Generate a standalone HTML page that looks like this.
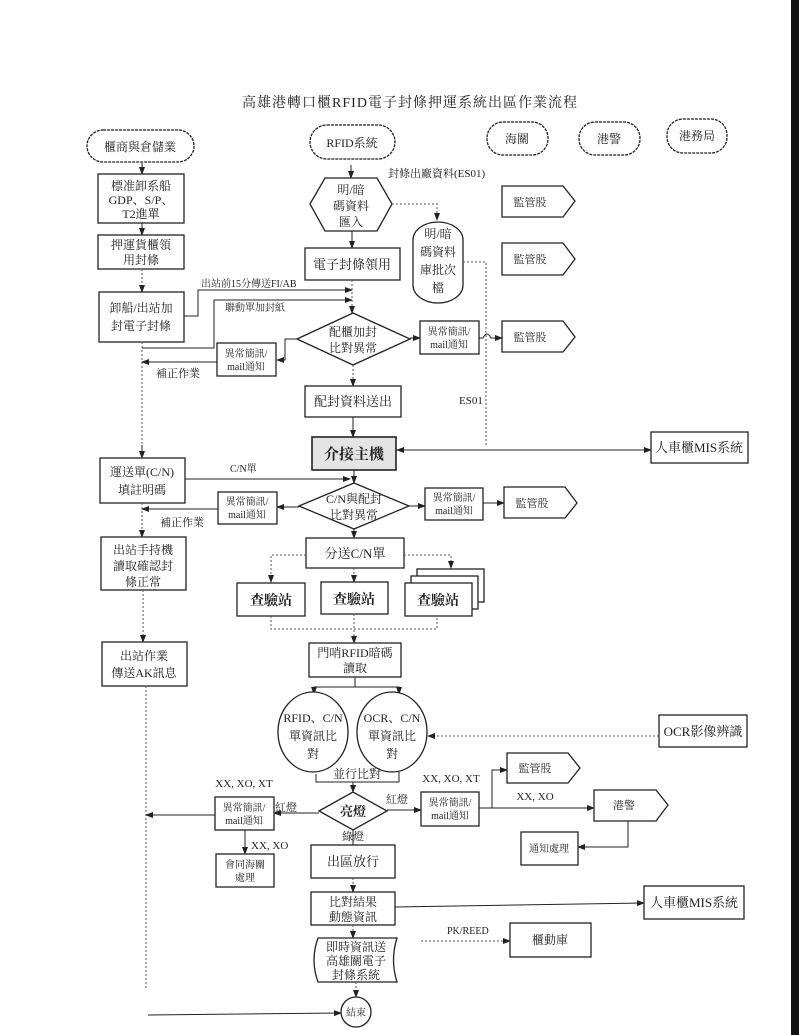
<!DOCTYPE html>
<html><head><meta charset="utf-8"><style>
html,body{margin:0;padding:0;background:#fff;}
svg{display:block;}
text{font-family:"Liberation Serif","Noto Serif CJK SC","Noto Sans CJK TC",serif;fill:#222;}
.b{fill:#fff;stroke:#222;stroke-width:1.3;}
.l{fill:none;stroke:#222;stroke-width:1;}
.d{fill:none;stroke:#555;stroke-width:1;stroke-dasharray:2,2;}
</style></head><body>
<svg width="799" height="1035" viewBox="0 0 799 1035" xmlns="http://www.w3.org/2000/svg">
<defs>
<marker id="a" markerWidth="8" markerHeight="8" refX="7" refY="4" orient="auto" markerUnits="userSpaceOnUse"><path d="M0,1 L8,4 L0,7 Z" fill="#222"/></marker>
</defs>
<rect x="791" y="0" width="8" height="1035" fill="#111"/>

<text x="410" y="107" font-size="14" text-anchor="middle" letter-spacing="1">高雄港轉口櫃RFID電子封條押運系統出區作業流程</text>

<!-- headers -->
<rect x="87" y="130" width="107" height="32" rx="16" class="b" stroke-dasharray="3,1"/>
<text x="140" y="151" font-size="12" text-anchor="middle">櫃商與倉儲業</text>
<rect x="310" y="125" width="85" height="34" rx="17" class="b" stroke-dasharray="3,1"/>
<text x="352" y="147" font-size="12" text-anchor="middle">RFID系統</text>
<rect x="487" y="122" width="61" height="33" rx="16" class="b" stroke-dasharray="3,1"/>
<text x="517" y="143" font-size="12" text-anchor="middle">海關</text>
<rect x="579" y="122" width="61" height="33" rx="16" class="b" stroke-dasharray="3,1"/>
<text x="609" y="143" font-size="12" text-anchor="middle">港警</text>
<rect x="667" y="119" width="60" height="34" rx="16" class="b" stroke-dasharray="3,1"/>
<text x="697" y="140" font-size="12" text-anchor="middle">港務局</text>

<!-- left column -->
<line x1="142" y1="163" x2="142" y2="174" class="l" marker-end="url(#a)"/>
<rect x="98" y="174" width="86" height="49" class="b"/>
<text font-size="12" text-anchor="middle"><tspan x="141" y="190">標准卸系船</tspan><tspan x="141" y="204">GDP、S/P、</tspan><tspan x="141" y="218">T2進單</tspan></text>
<line x1="142" y1="223" x2="142" y2="235" class="l" marker-end="url(#a)"/>
<rect x="98" y="235" width="86" height="34" class="b"/>
<text font-size="12" text-anchor="middle"><tspan x="141" y="249">押運貨櫃領</tspan><tspan x="141" y="264">用封條</tspan></text>
<line x1="142" y1="269" x2="142" y2="292" class="d" marker-end="url(#a)"/>
<rect x="99" y="292" width="85" height="50" class="b"/>
<text font-size="12" text-anchor="middle"><tspan x="141" y="312">卸船/出站加</tspan><tspan x="141" y="330">封電子封條</tspan></text>
<line x1="142" y1="342" x2="142" y2="453" class="d"/>
<line x1="142" y1="445" x2="142" y2="458" class="l" marker-end="url(#a)"/>
<rect x="100" y="458" width="85" height="45" class="b"/>
<text font-size="12" text-anchor="middle"><tspan x="142" y="476">運送單(C/N)</tspan><tspan x="142" y="494">填註明碼</tspan></text>
<line x1="142" y1="503" x2="142" y2="537" class="d" marker-end="url(#a)"/>
<rect x="101" y="537" width="85" height="53" class="b"/>
<text font-size="12" text-anchor="middle"><tspan x="143" y="554">出站手持機</tspan><tspan x="143" y="570">讀取確認封</tspan><tspan x="143" y="586">條正常</tspan></text>
<line x1="143" y1="590" x2="143" y2="642" class="d" marker-end="url(#a)"/>
<rect x="102" y="642" width="85" height="44" class="b"/>
<text font-size="12" text-anchor="middle"><tspan x="144" y="660">出站作業</tspan><tspan x="144" y="677">傳送AK訊息</tspan></text>
<line x1="146" y1="686" x2="146" y2="990" class="d"/>

<!-- RFID column top -->
<line x1="351" y1="165" x2="351" y2="178" class="l" marker-end="url(#a)"/>
<polygon points="310,204 325,178 377,178 392,204 377,231 325,231" class="b"/>
<text font-size="12" text-anchor="middle"><tspan x="351" y="194">明/暗</tspan><tspan x="351" y="210">碼資料</tspan><tspan x="351" y="226">匯入</tspan></text>
<text x="388" y="177" font-size="11">封條出廠資料(ES01)</text>
<polyline points="392,204 437,204 437,220" class="d" marker-end="url(#a)"/>
<path d="M413,240 A25,18 0 0 1 463,240 L463,285 A25,18 0 0 1 413,285 Z" class="b"/>
<text font-size="12" text-anchor="middle"><tspan x="438" y="238">明/暗</tspan><tspan x="438" y="256">碼資料</tspan><tspan x="438" y="274">庫批次</tspan><tspan x="438" y="292">檔</tspan></text>
<polyline points="463,262 486,262 486,445" class="d"/>
<text x="459" y="404" font-size="11">ES01</text>

<line x1="352" y1="231" x2="352" y2="248" class="l" marker-end="url(#a)"/>
<rect x="305" y="248" width="95" height="32" class="b"/>
<text x="352" y="269" font-size="13" text-anchor="middle">電子封條領用</text>

<!-- 監管股 -->
<polygon points="502,186 563,186 575,201 563,217 502,217" class="b"/>
<text x="530" y="206" font-size="11" text-anchor="middle">監管股</text>
<polygon points="502,243 563,243 575,259 563,275 502,275" class="b"/>
<text x="530" y="263" font-size="11" text-anchor="middle">監管股</text>
<polygon points="502,321 563,321 575,337 563,352 502,352" class="b"/>
<text x="530" y="341" font-size="11" text-anchor="middle">監管股</text>

<!-- box3 connectors -->
<polyline points="184,316 198,316 198,290 352,290" class="l" marker-end="url(#a)"/>
<text x="201" y="287" font-size="10">出站前15分傳送FI/AB</text>
<polyline points="142,348 214,348 214,300 352,300" class="l" marker-end="url(#a)"/>
<text x="225" y="311" font-size="10">聯動單加封紙</text>
<line x1="352" y1="280" x2="352" y2="313" class="d" marker-end="url(#a)"/>

<polygon points="297,339 353,313 410,339 353,365" class="b"/>
<text font-size="12" text-anchor="middle"><tspan x="353" y="336">配櫃加封</tspan><tspan x="353" y="352">比對異常</tspan></text>
<polyline points="297,339 285,339 285,360 277,360" class="l" marker-end="url(#a)"/>
<rect x="217" y="343" width="59" height="33" class="b"/>
<text font-size="10" text-anchor="middle"><tspan x="246" y="357">異常簡訊/</tspan><tspan x="246" y="370">mail通知</tspan></text>
<line x1="217" y1="362" x2="142" y2="362" class="l" marker-end="url(#a)"/>
<text x="156" y="377" font-size="11">補正作業</text>
<line x1="410" y1="338" x2="420" y2="338" class="l" marker-end="url(#a)"/>
<rect x="420" y="321" width="59" height="33" class="b"/>
<text font-size="10" text-anchor="middle"><tspan x="449" y="335">異常簡訊/</tspan><tspan x="449" y="348">mail通知</tspan></text>
<path d="M479,338 L483,338 Q487,330 491,338 L502,338" class="l" marker-end="url(#a)"/>

<line x1="353" y1="365" x2="353" y2="386" class="d" marker-end="url(#a)"/>
<rect x="305" y="386" width="96" height="31" class="b"/>
<text x="353" y="406" font-size="13" text-anchor="middle">配封資料送出</text>
<line x1="353" y1="417" x2="353" y2="437" class="l" marker-end="url(#a)"/>

<rect x="312" y="437" width="84" height="33" fill="#e4e4e4" stroke="#222" stroke-width="1.6"/>
<text x="354" y="459" font-size="15" font-weight="bold" text-anchor="middle">介接主機</text>
<line x1="396" y1="450" x2="651" y2="450" class="l" marker-start="url(#a)" marker-end="url(#a)" style="marker-start:none"/>
<polygon points="396,450 404,447 404,453" fill="#222"/>
<rect x="651" y="432" width="97" height="31" class="b"/>
<text x="699" y="452" font-size="13" text-anchor="middle">人車櫃MIS系統</text>

<!-- C/N -->
<line x1="185" y1="479" x2="350" y2="479" class="l" marker-end="url(#a)"/>
<text x="230" y="472" font-size="10">C/N單</text>
<line x1="354" y1="470" x2="354" y2="483" class="l" marker-end="url(#a)"/>
<polygon points="299,506 354,483 409,506 354,529" class="b"/>
<text font-size="12" text-anchor="middle"><tspan x="354" y="503">C/N與配封</tspan><tspan x="354" y="519">比對異常</tspan></text>
<line x1="299" y1="507" x2="277" y2="507" class="l" marker-end="url(#a)"/>
<rect x="218" y="492" width="59" height="32" class="b"/>
<text font-size="10" text-anchor="middle"><tspan x="247" y="505">異常簡訊/</tspan><tspan x="247" y="518">mail通知</tspan></text>
<line x1="218" y1="509" x2="142" y2="509" class="l" marker-end="url(#a)"/>
<text x="160" y="526" font-size="11">補正作業</text>
<line x1="409" y1="506" x2="425" y2="506" class="l" marker-end="url(#a)"/>
<rect x="425" y="488" width="58" height="32" class="b"/>
<text font-size="10" text-anchor="middle"><tspan x="454" y="501">異常簡訊/</tspan><tspan x="454" y="514">mail通知</tspan></text>
<line x1="483" y1="503" x2="504" y2="503" class="l" marker-end="url(#a)"/>
<polygon points="504,487 565,487 577,503 565,518 504,518" class="b"/>
<text x="532" y="507" font-size="11" text-anchor="middle">監管股</text>

<line x1="354" y1="529" x2="354" y2="538" class="l" marker-end="url(#a)"/>
<rect x="306" y="538" width="98" height="30" class="b"/>
<text x="355" y="558" font-size="13" text-anchor="middle">分送C/N單</text>
<polyline points="306,555 271,555 271,582" class="d" marker-end="url(#a)"/>
<polyline points="404,555 451,555 451,568" class="d" marker-end="url(#a)"/>
<line x1="354" y1="568" x2="354" y2="582" class="d" marker-end="url(#a)"/>
<rect x="237" y="583" width="68" height="33" class="b"/>
<text x="271" y="605" font-size="14" font-weight="bold" text-anchor="middle">查驗站</text>
<rect x="321" y="582" width="67" height="32" class="b"/>
<text x="354" y="604" font-size="14" font-weight="bold" text-anchor="middle">查驗站</text>
<rect x="417" y="569" width="67" height="33" class="b"/>
<rect x="411" y="576" width="67" height="33" class="b"/>
<rect x="405" y="583" width="67" height="33" class="b"/>
<text x="438" y="605" font-size="14" font-weight="bold" text-anchor="middle">查驗站</text>
<polyline points="271,616 271,629 437,629 437,616" class="d"/>
<line x1="354" y1="614" x2="354" y2="643" class="d" marker-end="url(#a)"/>
<rect x="309" y="643" width="92" height="34" class="b"/>
<text font-size="12" text-anchor="middle"><tspan x="355" y="657">門哨RFID暗碼</tspan><tspan x="355" y="672">讀取</tspan></text>
<line x1="355" y1="677" x2="355" y2="687" class="l"/>
<polyline points="314,692 314,687 399,687 399,692" class="l"/>
<line x1="314" y1="687" x2="314" y2="694" class="l" marker-end="url(#a)"/>
<line x1="399" y1="687" x2="399" y2="694" class="l" marker-end="url(#a)"/>

<ellipse cx="313" cy="732" rx="35" ry="40" class="b"/>
<text font-size="12" text-anchor="middle"><tspan x="313" y="722">RFID、C/N</tspan><tspan x="313" y="740">單資訊比</tspan><tspan x="313" y="758">對</tspan></text>
<ellipse cx="392" cy="732" rx="35" ry="40" class="b"/>
<text font-size="12" text-anchor="middle"><tspan x="392" y="722">OCR、C/N</tspan><tspan x="392" y="740">單資訊比</tspan><tspan x="392" y="758">對</tspan></text>
<rect x="659" y="715" width="88" height="32" class="b"/>
<text x="703" y="736" font-size="13" text-anchor="middle">OCR影像辨識</text>
<line x1="659" y1="736" x2="428" y2="736" class="d" marker-end="url(#a)"/>
<polyline points="316,774 316,782 399,782 399,772" class="l"/>
<text x="357" y="778" font-size="12" text-anchor="middle">並行比對</text>
<line x1="353" y1="782" x2="353" y2="792" class="l" marker-end="url(#a)"/>

<polygon points="319,811 353,792 387,811 353,830" class="b"/>
<text x="353" y="816" font-size="13" font-weight="bold" text-anchor="middle">亮燈</text>
<text x="286" y="811" font-size="11" text-anchor="middle">紅燈</text>
<line x1="319" y1="813" x2="274" y2="813" class="l" marker-end="url(#a)"/>
<text x="244" y="787" font-size="11" text-anchor="middle">XX, XO, XT</text>
<rect x="215" y="797" width="59" height="33" class="b"/>
<text font-size="10" text-anchor="middle"><tspan x="244" y="811">異常簡訊/</tspan><tspan x="244" y="824">mail通知</tspan></text>
<line x1="215" y1="815" x2="146" y2="815" class="l" marker-end="url(#a)"/>
<line x1="245" y1="830" x2="245" y2="854" class="l" marker-end="url(#a)"/>
<text x="251" y="849" font-size="11">XX, XO</text>
<rect x="216" y="854" width="58" height="33" class="b"/>
<text font-size="10" text-anchor="middle"><tspan x="245" y="868">會同海關</tspan><tspan x="245" y="881">處理</tspan></text>

<text x="397" y="803" font-size="11" text-anchor="middle">紅燈</text>
<line x1="387" y1="810" x2="421" y2="810" class="l" marker-end="url(#a)"/>
<text x="451" y="782" font-size="11" text-anchor="middle">XX, XO, XT</text>
<rect x="421" y="792" width="58" height="34" class="b"/>
<text font-size="10" text-anchor="middle"><tspan x="450" y="806">異常簡訊/</tspan><tspan x="450" y="819">mail通知</tspan></text>
<polyline points="479,808 492,808 492,770 507,770" class="l" marker-end="url(#a)"/>
<polygon points="507,753 568,753 580,768 568,783 507,783" class="b"/>
<text x="535" y="772" font-size="11" text-anchor="middle">監管股</text>
<line x1="479" y1="808" x2="594" y2="808" class="l" marker-end="url(#a)"/>
<text x="535" y="800" font-size="11" text-anchor="middle">XX, XO</text>
<polygon points="594,790 656,790 668,805 656,821 594,821" class="b" stroke="#888"/>
<text x="624" y="809" font-size="11" text-anchor="middle" fill="#666">港警</text>
<polyline points="628,821 628,847 578,847" class="l" marker-end="url(#a)"/>
<rect x="521" y="832" width="57" height="33" class="b"/>
<text x="549" y="852" font-size="10" text-anchor="middle">通知處理</text>

<text x="353" y="840" font-size="11" text-anchor="middle">綠燈</text>
<line x1="353" y1="830" x2="353" y2="845" class="l"/>
<rect x="311" y="845" width="84" height="33" class="b"/>
<text x="353" y="866" font-size="13" text-anchor="middle">出區放行</text>
<line x1="353" y1="878" x2="353" y2="892" class="d" marker-end="url(#a)"/>
<rect x="311" y="892" width="84" height="33" class="b"/>
<text font-size="12" text-anchor="middle"><tspan x="353" y="906">比對結果</tspan><tspan x="353" y="921">動態資訊</tspan></text>
<line x1="395" y1="907" x2="644" y2="903" class="l" marker-end="url(#a)"/>
<rect x="644" y="886" width="100" height="33" class="b"/>
<text x="694" y="907" font-size="13" text-anchor="middle">人車櫃MIS系統</text>
<line x1="353" y1="925" x2="353" y2="938" class="d" marker-end="url(#a)"/>
<path d="M318,938 L397,938 Q390,960 397,982 L318,982 Q310,960 318,938 Z" class="b"/>
<text font-size="12" text-anchor="middle"><tspan x="356" y="951">即時資訊送</tspan><tspan x="356" y="965">高雄關電子</tspan><tspan x="356" y="979">封條系統</tspan></text>
<line x1="421" y1="941" x2="510" y2="941" class="d" marker-end="url(#a)"/>
<text x="447" y="934" font-size="10">PK/REED</text>
<rect x="510" y="923" width="81" height="34" class="b"/>
<text x="550" y="944" font-size="12" text-anchor="middle">櫃動庫</text>
<line x1="356" y1="982" x2="356" y2="997" class="d" marker-end="url(#a)"/>
<circle cx="356" cy="1012" r="15" class="b"/>
<text x="356" y="1016" font-size="10" text-anchor="middle">結束</text>
<line x1="148" y1="1015" x2="341" y2="1013" class="l" marker-end="url(#a)"/>
</svg>
</body></html>
